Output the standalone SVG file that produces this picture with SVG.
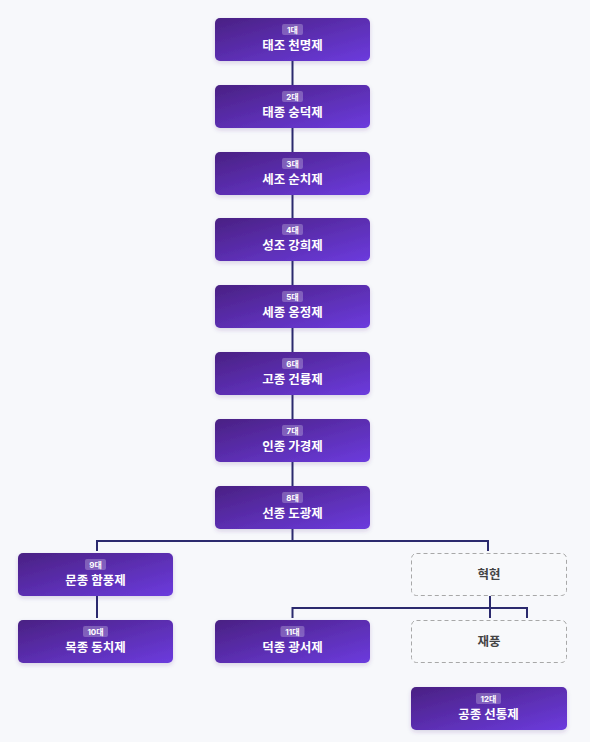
<svg xmlns="http://www.w3.org/2000/svg" width="590" height="742" viewBox="0 0 590 742">
<defs>
<linearGradient id="g" x1="0" y1="0" x2="1" y2="1">
<stop offset="0" stop-color="#4a2183"/>
<stop offset="1" stop-color="#6c3bde"/>
</linearGradient>
<filter id="sh" x="-10%" y="-20%" width="120%" height="150%">
<feDropShadow dx="0" dy="2" stdDeviation="2" flood-color="#4a2183" flood-opacity="0.18"/>
</filter>
</defs>
<style>
.n{fill:url(#g);filter:url(#sh)}
.d{fill:#f8f9fb;stroke:#a8a8a8;stroke-width:1;stroke-dasharray:4 3}
.b{fill:#ffffff;fill-opacity:0.25}
.bt{font-family:Inter,"Noto Sans CJK KR",sans-serif;font-size:8px;font-weight:700;fill:#ffffff;text-anchor:middle}
.t{font-family:Inter,"Noto Sans CJK KR",sans-serif;font-size:12.5px;font-weight:700;fill:#ffffff;text-anchor:middle}
.dt{font-family:Inter,"Noto Sans CJK KR",sans-serif;font-size:12.5px;font-weight:700;fill:#444444;text-anchor:middle}
.c{fill:none;stroke:#2b2a6e;stroke-width:2}
</style>
<rect width="590" height="742" fill="#f7f8fb"/>
<g id="connectors">
<path class="c" d="M292.5 61V85M292.5 128V152M292.5 195V218M292.5 261V285M292.5 328V352M292.5 395V419M292.5 462V486"/>
<path class="c" d="M292.5 529V541M97 551V541H488V551"/>
<path class="c" d="M97 596V618"/>
<path class="c" d="M490 596V608M292.5 618V608H527V618M490 608V618"/>
</g>
<g id="n1"><rect class="n" x="215" y="18" width="155" height="43" rx="5"/><rect class="b" x="282" y="24" width="21" height="11" rx="2"/><text class="bt" x="292.5" y="32.5">1대</text><text class="t" x="292.5" y="50">태조 천명제</text></g>
<g id="n2"><rect class="n" x="215" y="85" width="155" height="43" rx="5"/><rect class="b" x="282" y="91" width="21" height="11" rx="2"/><text class="bt" x="292.5" y="99.5">2대</text><text class="t" x="292.5" y="117">태종 숭덕제</text></g>
<g id="n3"><rect class="n" x="215" y="152" width="155" height="43" rx="5"/><rect class="b" x="282" y="158" width="21" height="11" rx="2"/><text class="bt" x="292.5" y="166.5">3대</text><text class="t" x="292.5" y="184">세조 순치제</text></g>
<g id="n4"><rect class="n" x="215" y="218" width="155" height="43" rx="5"/><rect class="b" x="282" y="224" width="21" height="11" rx="2"/><text class="bt" x="292.5" y="232.5">4대</text><text class="t" x="292.5" y="250">성조 강희제</text></g>
<g id="n5"><rect class="n" x="215" y="285" width="155" height="43" rx="5"/><rect class="b" x="282" y="291" width="21" height="11" rx="2"/><text class="bt" x="292.5" y="299.5">5대</text><text class="t" x="292.5" y="317">세종 옹정제</text></g>
<g id="n6"><rect class="n" x="215" y="352" width="155" height="43" rx="5"/><rect class="b" x="282" y="358" width="21" height="11" rx="2"/><text class="bt" x="292.5" y="366.5">6대</text><text class="t" x="292.5" y="384">고종 건륭제</text></g>
<g id="n7"><rect class="n" x="215" y="419" width="155" height="43" rx="5"/><rect class="b" x="282" y="425" width="21" height="11" rx="2"/><text class="bt" x="292.5" y="433.5">7대</text><text class="t" x="292.5" y="451">인종 가경제</text></g>
<g id="n8"><rect class="n" x="215" y="486" width="155" height="43" rx="5"/><rect class="b" x="282" y="492" width="21" height="11" rx="2"/><text class="bt" x="292.5" y="500.5">8대</text><text class="t" x="292.5" y="518">선종 도광제</text></g>
<g id="n9"><rect class="n" x="18" y="553" width="155" height="43" rx="5"/><rect class="b" x="85" y="559" width="21" height="11" rx="2"/><text class="bt" x="95.5" y="567.5">9대</text><text class="t" x="95.5" y="585">문종 함풍제</text></g>
<g id="hyeokhyeon"><rect class="d" x="411.5" y="553.5" width="155" height="42" rx="5"/><text class="dt" x="489" y="579">혁현</text></g>
<g id="n10"><rect class="n" x="18" y="620" width="155" height="43" rx="5"/><rect class="b" x="83" y="626" width="25" height="11" rx="2"/><text class="bt" x="95.5" y="634.5">10대</text><text class="t" x="95.5" y="652">목종 동치제</text></g>
<g id="n11"><rect class="n" x="215" y="620" width="155" height="43" rx="5"/><rect class="b" x="280.5" y="626" width="24" height="11" rx="2"/><text class="bt" x="292.5" y="634.5">11대</text><text class="t" x="292.5" y="652">덕종 광서제</text></g>
<g id="jaepung"><rect class="d" x="411.5" y="620.5" width="155" height="42" rx="5"/><text class="dt" x="489" y="646">재풍</text></g>
<g id="n12"><rect class="n" x="411" y="687" width="156" height="43" rx="5"/><rect class="b" x="476" y="693" width="25" height="11" rx="2"/><text class="bt" x="488.5" y="701.5">12대</text><text class="t" x="488.5" y="719">공종 선통제</text></g>
</svg>
